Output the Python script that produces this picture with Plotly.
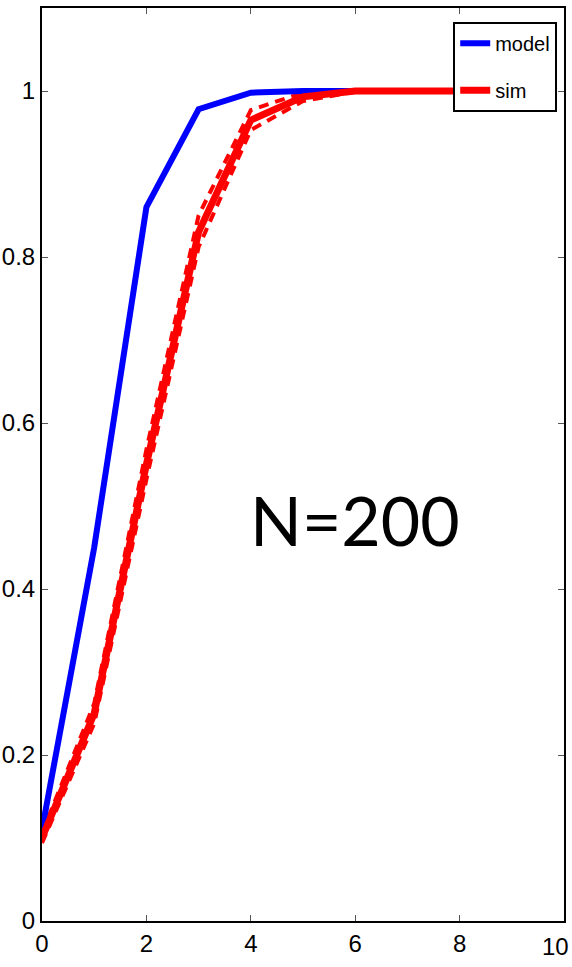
import plotly.graph_objects as go

x_vals = [0, 1, 2, 3, 4, 5, 6, 7, 8]
model = [0.11, 0.45, 0.86, 0.978, 0.998, 1.0, 1.0, 1.0, 1.0]
sim = [0.10, 0.25, 0.55, 0.83, 0.965, 0.993, 1.0, 1.0, 1.0]
sim_upper = [0.106, 0.262, 0.568, 0.85, 0.977, 0.998, 1.0, 1.0, 1.0]
sim_lower = [0.094, 0.238, 0.532, 0.812, 0.953, 0.988, 0.999, 1.0, 1.0]
x_ticks = [0, 2, 4, 6, 8, 10]
x_tick_text = ["0", "2", "4", "6", "8", ""]
y_ticks = [0, 0.2, 0.4, 0.6, 0.8, 1]
y_tick_text = ["0", "0.2", "0.4", "0.6", "0.8", "1"]

SANS = "Liberation Sans, Arial, sans-serif"

fig = go.Figure()
fig.add_trace(go.Scatter(x=x_vals, y=sim_upper, mode="lines",
                         line=dict(color="#ff0000", width=4, dash="10px,7px"),
                         showlegend=False, hoverinfo="skip"))
fig.add_trace(go.Scatter(x=x_vals, y=sim_lower, mode="lines",
                         line=dict(color="#ff0000", width=4, dash="10px,7px"),
                         showlegend=False, hoverinfo="skip"))
fig.add_trace(go.Scatter(x=x_vals, y=model, mode="lines", name="model",
                         legendgroup="a",
                         line=dict(color="#0000ff", width=6)))
fig.add_trace(go.Scatter(x=x_vals, y=sim, mode="lines", name="sim",
                         legendgroup="b",
                         line=dict(color="#ff0000", width=7)))

fig.add_annotation(x=6.0, y=0.484, xref="x", yref="y", text="N=200",
                   showarrow=False,
                   font=dict(family="Comic Sans MS, Lato, sans-serif", size=68,
                             color="black"))
# last x tick label (sits at the plot's right edge, as in the reference)
fig.add_annotation(x=10, y=0, xref="x", yref="paper", text="10", showarrow=False,
                   xanchor="right", yanchor="top", xshift=7, yshift=-10,
                   font=dict(family=SANS, size=24, color="black"))

tickfont = dict(family=SANS, size=24, color="black")

fig.update_xaxes(range=[0, 10], tickvals=x_ticks, ticktext=x_tick_text,
                 ticks="inside", ticklen=6, automargin=False,
                 tickcolor="#555", showline=True, linecolor="black", linewidth=2,
                 mirror="ticks", showgrid=False, zeroline=False, tickfont=tickfont)
fig.update_yaxes(range=[0, 1.1], tickvals=y_ticks, ticktext=y_tick_text,
                 ticks="inside", ticklen=6, tickcolor="#555", showline=True,
                 automargin=False,
                 linecolor="black", linewidth=2, mirror="ticks", showgrid=False,
                 zeroline=False, tickfont=tickfont)

fig.update_layout(
    width=572, height=967,
    margin=dict(l=42, r=8, t=8, b=46),
    plot_bgcolor="white", paper_bgcolor="white",
    legend=dict(x=0.987, y=0.985, xanchor="right", yanchor="top",
                bgcolor="white", bordercolor="black", borderwidth=2,
                font=dict(family=SANS, size=20, color="black"),
                itemwidth=30, tracegroupgap=18),
)

fig.write_html("out.html")
